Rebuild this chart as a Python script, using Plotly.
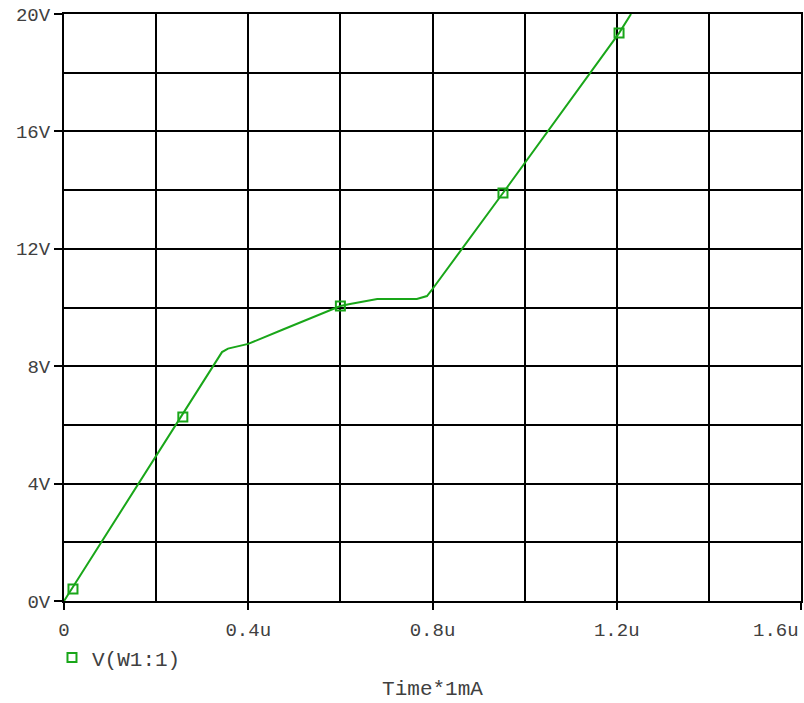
import plotly.graph_objects as go

# Curve V(W1:1) vs Time*1mA (x in microseconds)
t_us = [0, 0.343, 0.356, 0.40, 0.4755, 0.60, 0.621, 0.643, 0.680, 0.766, 0.788, 0.80, 0.953, 1.205, 1.231]
v = [0, 8.48, 8.60, 8.76, 9.25, 10.05, 10.12, 10.19, 10.29, 10.29, 10.39, 10.63, 13.9, 19.35, 20.0]

# marker positions
mk_t = [0.0195, 0.258, 0.60, 0.953, 1.205]
mk_v = [0.41, 6.27, 10.05, 13.9, 19.35]

x_tickvals = [0, 0.4, 0.8, 1.2, 1.6]
x_ticktext = ["0", "0.4u", "0.8u", "1.2u", ""]
last_x_label = "1.6u"
y_tickvals = [0, 4, 8, 12, 16, 20]
y_ticktext = ["0V", "4V", "8V", "12V", "16V", "20V"]

green = "#19a619"
txtcol = "#404040"
FONT = "Liberation Mono"

fig = go.Figure()
fig.add_trace(go.Scatter(x=t_us, y=v, mode="lines", line=dict(color=green, width=2),
                         showlegend=False, hoverinfo="skip"))
fig.add_trace(go.Scatter(x=mk_t, y=mk_v, mode="markers", name="V(W1:1)",
                         marker=dict(symbol="square-open", size=9, color=green,
                                     line=dict(width=2, color=green))))

fig.add_annotation(x=1.6, y=0, xref="x", yref="paper", text=last_x_label, showarrow=False,
                   xanchor="right", yanchor="middle", yshift=-30,
                   font=dict(family=FONT, size=19, color=txtcol))

fig.update_layout(
    width=804, height=703,
    margin=dict(l=64, r=3, t=14, b=102, pad=0, autoexpand=False),
    plot_bgcolor="white", paper_bgcolor="white",
    font=dict(family=FONT, size=19, color=txtcol),
    showlegend=True,
    legend=dict(x=-0.0163, y=-0.097, xanchor="left", yanchor="middle", orientation="h",
                font=dict(family=FONT, size=21, color=txtcol), bgcolor="rgba(0,0,0,0)"),
    xaxis=dict(range=[0, 1.6], tickvals=x_tickvals, ticktext=x_ticktext,
               showgrid=True, gridcolor="black", gridwidth=2,
               minor=dict(dtick=0.2, showgrid=True, gridcolor="black", gridwidth=2, ticks=""),
               ticks="outside", ticklen=7, tickwidth=2, tickcolor="black",
               showline=True, linecolor="black", linewidth=2, mirror=True,
               zeroline=False, ticklabelstandoff=3, automargin=False, ticklabeloverflow="allow",
               title=dict(text="Time*1mA", standoff=40, font=dict(family=FONT, size=21, color=txtcol))),
    yaxis=dict(range=[0, 20], tickvals=y_tickvals, ticktext=y_ticktext,
               showgrid=True, gridcolor="black", gridwidth=2,
               minor=dict(dtick=2, showgrid=True, gridcolor="black", gridwidth=2, ticks=""),
               ticks="outside", ticklen=8, tickwidth=2, tickcolor="black",
               showline=True, linecolor="black", linewidth=2, mirror=True,
               zeroline=False, ticklabelstandoff=0, automargin=False, ticklabeloverflow="allow"),
)

fig.write_html("out.html", config={"displayModeBar": False},
               post_script="document.body.style.margin='0';document.body.style.overflow='hidden';")
